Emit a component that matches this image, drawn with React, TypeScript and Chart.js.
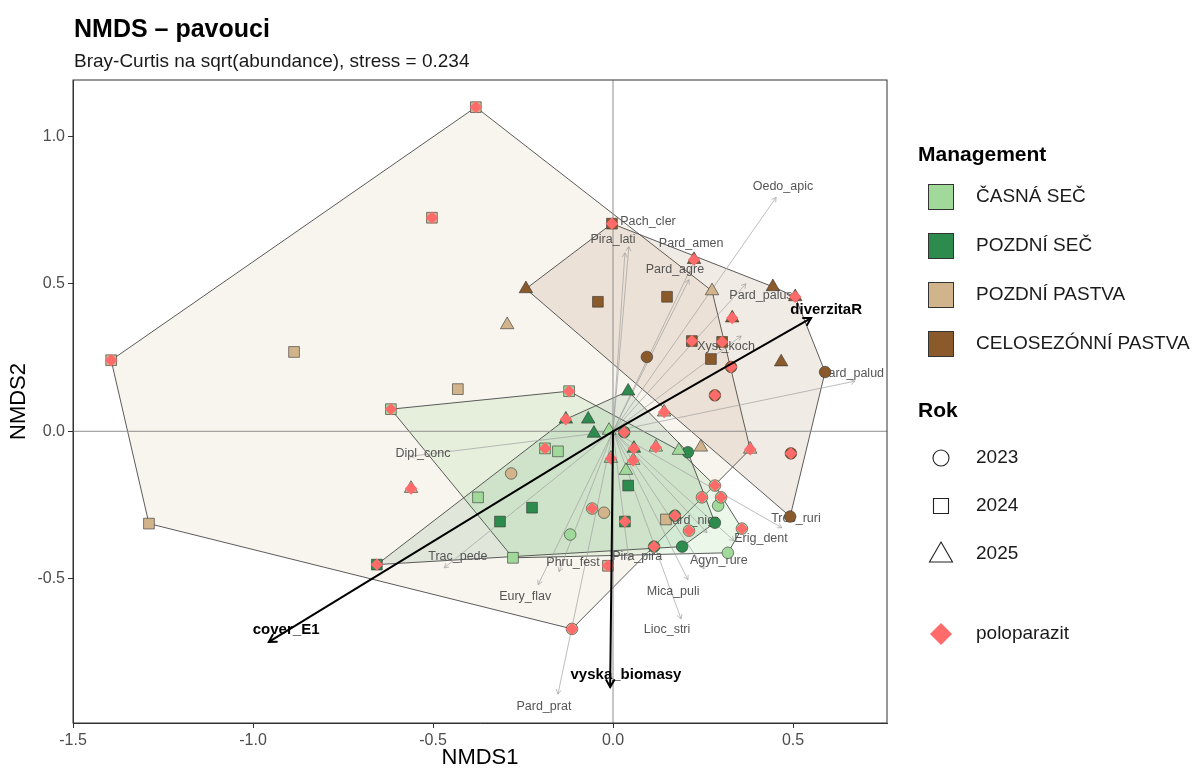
import React, { useEffect, useRef } from 'react';
import { Chart, registerables } from 'chart.js';

Chart.register(...registerables);

const FONT = '"Liberation Sans", Arial, Helvetica, sans-serif';

const TITLE = 'NMDS – pavouci';
const SUBTITLE = 'Bray-Curtis na sqrt(abundance), stress = 0.234';
const X_TITLE = 'NMDS1';
const Y_TITLE = 'NMDS2';

const X_TICKS = [-1.5, -1.0, -0.5, 0.0, 0.5];
const Y_TICKS = [-0.5, 0.0, 0.5, 1.0];

const MANAGEMENT = ['ČASNÁ SEČ', 'POZDNÍ SEČ', 'POZDNÍ PASTVA', 'CELOSEZÓNNÍ PASTVA'];
const MANAGEMENT_COLORS = ['#a1d99b', '#2e8b4e', '#d2b48c', '#8b5a2b'];
const HULL_ALPHA = [0.22, 0.12, 0.15, 0.12];
const HULL_ORDER = [2, 3, 0, 1];

const YEARS = [2023, 2024, 2025];
const YEAR_STYLES = ['circle', 'rect', 'triangle'];
const YEAR_RADII = [5.8, 7.6, 7.8];

const POLOPARAZIT = 'poloparazit';
const POLOPARAZIT_COLOR = '#ff6b6b';

// [NMDS1, NMDS2, rok, poloparazit]
const CASNA_SEC = [
  [-0.122, 0.136, 2024, 1],
  [-0.617, 0.075, 2024, 1],
  [-0.189, -0.058, 2024, 1],
  [-0.153, -0.068, 2024, 0],
  [-0.375, -0.224, 2024, 0],
  [-0.119, -0.35, 2023, 0],
  [-0.278, -0.429, 2024, 0],
  [-0.058, -0.262, 2023, 1],
  [-0.011, 0.003, 2025, 0],
  [0.036, -0.133, 2025, 0],
  [0.183, -0.065, 2025, 0],
  [0.292, -0.252, 2023, 0],
  [0.319, -0.412, 2023, 0],
  [0.3, -0.224, 2023, 1],
  [0.358, -0.33, 2023, 1],
  [0.283, -0.184, 2023, 1],
  [0.211, -0.337, 2023, 1],
  [0.247, -0.224, 2023, 1],
  [-0.006, -0.092, 2025, 1],
  [0.056, -0.099, 2025, 1],
  [0.119, -0.054, 2025, 1],
];

const POZDNI_SEC = [
  [0.042, 0.136, 2025, 0],
  [-0.069, 0.041, 2025, 0],
  [-0.053, -0.007, 2025, 0],
  [-0.131, 0.041, 2025, 1],
  [-0.225, -0.259, 2024, 0],
  [-0.314, -0.306, 2024, 0],
  [-0.656, -0.452, 2024, 1],
  [0.033, -0.306, 2024, 1],
  [0.042, -0.184, 2024, 0],
  [0.208, -0.071, 2023, 0],
  [0.283, -0.31, 2023, 0],
  [0.192, -0.391, 2023, 0],
  [0.114, -0.391, 2023, 1],
  [0.172, -0.286, 2023, 1],
  [0.031, -0.003, 2023, 1],
  [0.058, -0.058, 2025, 1],
];

const POZDNI_PASTVA = [
  [-0.381, 1.099, 2024, 1],
  [-0.503, 0.724, 2024, 1],
  [-1.394, 0.241, 2024, 1],
  [-0.886, 0.269, 2024, 0],
  [-1.289, -0.313, 2024, 0],
  [-0.431, 0.143, 2024, 0],
  [-0.294, 0.361, 2025, 0],
  [-0.561, -0.194, 2025, 1],
  [0.275, 0.476, 2025, 0],
  [0.381, -0.061, 2025, 1],
  [-0.114, -0.67, 2023, 1],
  [-0.283, -0.143, 2023, 0],
  [-0.025, -0.276, 2023, 0],
  [0.147, -0.299, 2024, 0],
  [0.244, -0.054, 2025, 0],
  [-0.014, -0.456, 2024, 1],
  [0.142, 0.065, 2025, 1],
];

const CELOSEZONNI_PASTVA = [
  [-0.242, 0.483, 2025, 0],
  [-0.042, 0.439, 2024, 0],
  [-0.003, 0.704, 2024, 1],
  [0.15, 0.456, 2024, 0],
  [0.225, 0.582, 2025, 1],
  [0.444, 0.49, 2025, 0],
  [0.506, 0.456, 2025, 1],
  [0.331, 0.384, 2025, 1],
  [0.219, 0.306, 2024, 1],
  [0.303, 0.303, 2024, 1],
  [0.094, 0.252, 2023, 0],
  [0.272, 0.245, 2024, 0],
  [0.328, 0.218, 2023, 1],
  [0.467, 0.235, 2025, 0],
  [0.589, 0.201, 2023, 0],
  [0.283, 0.122, 2023, 1],
  [0.494, -0.075, 2023, 1],
  [0.492, -0.289, 2023, 0],
];

const GROUPS = [CASNA_SEC, POZDNI_SEC, POZDNI_PASTVA, CELOSEZONNI_PASTVA];

const SPECIES = ['Oedo_apic', 'Pach_cler', 'Pira_lati', 'Pard_amen', 'Pard_agre', 'Pard_palus', 'Xyst_koch', 'Pard_palud', 'Dipl_conc', 'Troc_ruri', 'Pard_nigr', 'Erig_dent', 'Agyn_rure', 'Mica_puli', 'Lioc_stri', 'Pira_pira', 'Phru_fest', 'Trac_pede', 'Eury_flav', 'Pard_prat'];
const SPECIES_X = [0.453, 0.044, 0.033, 0.225, 0.211, 0.369, 0.356, 0.672, -0.564, 0.469, 0.261, 0.336, 0.253, 0.208, 0.189, 0.044, -0.15, -0.469, -0.208, -0.153];
const SPECIES_Y = [0.793, 0.626, 0.605, 0.575, 0.514, 0.5, 0.323, 0.17, -0.085, -0.327, -0.344, -0.371, -0.466, -0.503, -0.636, -0.439, -0.476, -0.463, -0.52, -0.891];
const SPECIES_LABEL_X = [0.472, 0.097, 0.0, 0.217, 0.172, 0.411, 0.314, 0.664, -0.528, 0.508, 0.217, 0.411, 0.294, 0.167, 0.15, 0.067, -0.111, -0.431, -0.244, -0.192];
const SPECIES_LABEL_Y = [0.83, 0.711, 0.65, 0.636, 0.548, 0.459, 0.286, 0.197, -0.075, -0.296, -0.303, -0.364, -0.439, -0.544, -0.673, -0.425, -0.446, -0.425, -0.561, -0.932];

const ENV = ['diverzitaR', 'cover_E1', 'vyska_biomasy'];
const ENV_X = [0.55, -0.956, -0.008];
const ENV_Y = [0.384, -0.714, -0.867];
const ENV_LABEL_X = [0.592, -0.908, 0.036];
const ENV_LABEL_Y = [0.412, -0.673, -0.827];

type P = { x: number; y: number };

function convexHull(pts: P[]): P[] {
  const p = pts.slice().sort((a, b) => a.x - b.x || a.y - b.y);
  const cross = (o: P, a: P, b: P) => (a.x - o.x) * (b.y - o.y) - (a.y - o.y) * (b.x - o.x);
  const lower: P[] = [];
  for (const q of p) {
    while (lower.length >= 2 && cross(lower[lower.length - 2], lower[lower.length - 1], q) <= 0) lower.pop();
    lower.push(q);
  }
  const upper: P[] = [];
  for (let i = p.length - 1; i >= 0; i--) {
    const q = p[i];
    while (upper.length >= 2 && cross(upper[upper.length - 2], upper[upper.length - 1], q) <= 0) upper.pop();
    upper.push(q);
  }
  upper.pop();
  lower.pop();
  return lower.concat(upper);
}

function hexToRgba(hex: string, a: number) {
  const n = parseInt(hex.slice(1), 16);
  return `rgba(${(n >> 16) & 255},${(n >> 8) & 255},${n & 255},${a})`;
}

function drawArrow(ctx: CanvasRenderingContext2D, x0: number, y0: number, x1: number, y1: number, head: number) {
  const ang = Math.atan2(y1 - y0, x1 - x0);
  ctx.beginPath();
  ctx.moveTo(x0, y0);
  ctx.lineTo(x1, y1);
  ctx.stroke();
  ctx.beginPath();
  ctx.moveTo(x1 - head * Math.cos(ang - Math.PI / 6), y1 - head * Math.sin(ang - Math.PI / 6));
  ctx.lineTo(x1, y1);
  ctx.lineTo(x1 - head * Math.cos(ang + Math.PI / 6), y1 - head * Math.sin(ang + Math.PI / 6));
  ctx.stroke();
}

const nmdsPlugin = {
  id: 'nmdsExtras',
  beforeDatasetsDraw(chart: any) {
    const { ctx, chartArea: a, scales } = chart;
    const sx = scales.x, sy = scales.y;
    ctx.save();
    ctx.beginPath();
    ctx.rect(a.left, a.top, a.right - a.left, a.bottom - a.top);
    ctx.clip();
    HULL_ORDER.forEach((gi) => {
      const hull = convexHull(GROUPS[gi].map((s) => ({ x: s[0], y: s[1] })));
      ctx.beginPath();
      hull.forEach((h, i) => {
        const px = sx.getPixelForValue(h.x), py = sy.getPixelForValue(h.y);
        if (i === 0) ctx.moveTo(px, py); else ctx.lineTo(px, py);
      });
      ctx.closePath();
      ctx.fillStyle = hexToRgba(MANAGEMENT_COLORS[gi], HULL_ALPHA[gi]);
      ctx.fill();
      ctx.strokeStyle = '#4a4a4a';
      ctx.lineWidth = 0.9;
      ctx.stroke();
    });
    ctx.strokeStyle = '#8f8f8f';
    ctx.lineWidth = 1;
    const x0 = sx.getPixelForValue(0), y0 = sy.getPixelForValue(0);
    ctx.beginPath();
    ctx.moveTo(x0, a.top); ctx.lineTo(x0, a.bottom);
    ctx.moveTo(a.left, y0); ctx.lineTo(a.right, y0);
    ctx.stroke();
    ctx.strokeStyle = '#a0a0a0';
    ctx.lineWidth = 0.7;
    SPECIES.forEach((s, i) => {
      drawArrow(ctx, x0, y0, sx.getPixelForValue(SPECIES_X[i]), sy.getPixelForValue(SPECIES_Y[i]), 5);
    });
    ctx.fillStyle = '#555555';
    ctx.font = `12.5px ${FONT}`;
    ctx.textAlign = 'center';
    ctx.textBaseline = 'middle';
    SPECIES.forEach((s, i) => {
      ctx.fillText(s, sx.getPixelForValue(SPECIES_LABEL_X[i]), sy.getPixelForValue(SPECIES_LABEL_Y[i]));
    });
    ctx.restore();
  },
  afterDatasetsDraw(chart: any) {
    const { ctx, chartArea: a, scales } = chart;
    const sx = scales.x, sy = scales.y;
    const x0 = sx.getPixelForValue(0), y0 = sy.getPixelForValue(0);
    ctx.save();
    ctx.strokeStyle = '#000';
    ctx.lineWidth = 2;
    ctx.lineCap = 'round';
    ENV.forEach((e, i) => {
      drawArrow(ctx, x0, y0, sx.getPixelForValue(ENV_X[i]), sy.getPixelForValue(ENV_Y[i]), 8);
    });
    ctx.fillStyle = '#000';
    ctx.font = `bold 15px ${FONT}`;
    ctx.textAlign = 'center';
    ctx.textBaseline = 'middle';
    ENV.forEach((e, i) => {
      ctx.fillText(e, sx.getPixelForValue(ENV_LABEL_X[i]), sy.getPixelForValue(ENV_LABEL_Y[i]));
    });
    ctx.strokeStyle = '#333';
    ctx.lineWidth = 1;
    ctx.lineCap = 'butt';
    ctx.strokeRect(a.left, a.top, a.right - a.left, a.bottom - a.top);
    ctx.restore();
  },
  afterDraw(chart: any) {
    const { ctx, chartArea: a } = chart;
    ctx.save();
    ctx.textAlign = 'left';
    ctx.textBaseline = 'alphabetic';
    ctx.fillStyle = '#000';
    ctx.font = `bold 25px ${FONT}`;
    ctx.fillText(TITLE, a.left + 1, 37);
    ctx.font = `19px ${FONT}`;
    ctx.fillStyle = '#1a1a1a';
    ctx.fillText(SUBTITLE, a.left + 1, 67);

    const lx = 918, kx = 941;
    ctx.textBaseline = 'middle';
    ctx.fillStyle = '#000';
    ctx.font = `bold 21px ${FONT}`;
    ctx.fillText('Management', lx, 155);
    MANAGEMENT.forEach((m, i) => {
      const cy = 197 + i * 49;
      ctx.fillStyle = MANAGEMENT_COLORS[i];
      ctx.fillRect(kx - 12.5, cy - 12.5, 25, 25);
      ctx.strokeStyle = '#333';
      ctx.lineWidth = 1;
      ctx.strokeRect(kx - 12.5, cy - 12.5, 25, 25);
      ctx.fillStyle = '#1a1a1a';
      ctx.font = `19px ${FONT}`;
      ctx.fillText(m, 976, cy);
    });
    ctx.fillStyle = '#000';
    ctx.font = `bold 21px ${FONT}`;
    ctx.fillText('Rok', lx, 411);
    YEARS.forEach((yr, i) => {
      const cy = 458 + i * 48;
      ctx.strokeStyle = '#222';
      ctx.lineWidth = 1.1;
      ctx.beginPath();
      if (i === 0) ctx.arc(kx, cy, 8, 0, Math.PI * 2);
      else if (i === 1) ctx.rect(kx - 7.5, cy - 7.5, 15, 15);
      else {
        ctx.moveTo(kx, cy - 12);
        ctx.lineTo(kx + 11.5, cy + 8);
        ctx.lineTo(kx - 11.5, cy + 8);
        ctx.closePath();
      }
      ctx.stroke();
      ctx.fillStyle = '#1a1a1a';
      ctx.font = `19px ${FONT}`;
      ctx.fillText(String(yr), 976, cy);
    });
    const py = 634;
    ctx.fillStyle = POLOPARAZIT_COLOR;
    ctx.beginPath();
    ctx.moveTo(kx, py - 11);
    ctx.lineTo(kx + 11, py);
    ctx.lineTo(kx, py + 11);
    ctx.lineTo(kx - 11, py);
    ctx.closePath();
    ctx.fill();
    ctx.fillStyle = '#1a1a1a';
    ctx.font = `19px ${FONT}`;
    ctx.fillText(POLOPARAZIT, 976, py);
    ctx.restore();
  },
};

export default function App() {
  const canvasRef = useRef<HTMLCanvasElement | null>(null);

  useEffect(() => {
    document.body.style.margin = '0';
    const canvas = canvasRef.current;
    if (!canvas) return;

    const datasets: any[] = [];
    datasets.push({
      label: POLOPARAZIT,
      data: GROUPS.flat().filter((s) => s[3] === 1).map((s) => ({ x: s[0], y: s[1] })),
      pointStyle: 'rectRot',
      pointRadius: 6.2,
      backgroundColor: POLOPARAZIT_COLOR,
      borderWidth: 0,
      order: 0,
    });
    GROUPS.forEach((g, gi) => {
      YEARS.forEach((yr, yi) => {
        datasets.push({
          label: `${MANAGEMENT[gi]} ${yr}`,
          data: g.filter((s) => s[2] === yr).map((s) => ({ x: s[0], y: s[1] })),
          pointStyle: YEAR_STYLES[yi],
          pointRadius: YEAR_RADII[yi],
          backgroundColor: MANAGEMENT_COLORS[gi],
          borderColor: '#333333',
          borderWidth: 0.6,
          order: 1,
        });
      });
    });

    const tickFont = { family: FONT, size: 16 };
    const chart = new Chart(canvas, {
      type: 'scatter',
      data: { datasets },
      options: {
        responsive: false,
        animation: false,
        events: [],
        layout: { padding: { top: 80, right: 307, left: 0, bottom: 0 } },
        plugins: { legend: { display: false }, tooltip: { enabled: false }, title: { display: false } },
        scales: {
          x: {
            type: 'linear',
            min: -1.5,
            max: 0.761,
            afterBuildTicks: (s: any) => { s.ticks = X_TICKS.map((v) => ({ value: v })); },
            afterFit: (s: any) => { s.height = 48; },
            ticks: { callback: (v: any) => Number(v).toFixed(1), font: tickFont, color: '#4d4d4d', padding: 3, maxRotation: 0 },
            grid: { drawOnChartArea: false, drawTicks: true, tickLength: 5, color: '#333' },
            border: { display: true, color: '#333', width: 1 },
            title: { display: true, text: X_TITLE, font: { family: FONT, size: 22 }, color: '#000', padding: { top: 0, bottom: 0 } },
          },
          y: {
            type: 'linear',
            min: -0.989,
            max: 1.191,
            afterBuildTicks: (s: any) => { s.ticks = Y_TICKS.map((v) => ({ value: v })); },
            afterFit: (s: any) => { s.width = 73; },
            ticks: { callback: (v: any) => Number(v).toFixed(1), font: tickFont, color: '#4d4d4d', padding: 3 },
            grid: { drawOnChartArea: false, drawTicks: true, tickLength: 5, color: '#333' },
            border: { display: true, color: '#333', width: 1 },
            title: { display: true, text: Y_TITLE, font: { family: FONT, size: 22 }, color: '#000', padding: { top: 6, bottom: 0 } },
          },
        },
      },
      plugins: [nmdsPlugin],
    } as any);

    return () => chart.destroy();
  }, []);

  return (
    <div style={{ width: 1194, height: 771 }}>
      <canvas ref={canvasRef} width={1194} height={771} style={{ display: 'block' }} />
    </div>
  );
}
